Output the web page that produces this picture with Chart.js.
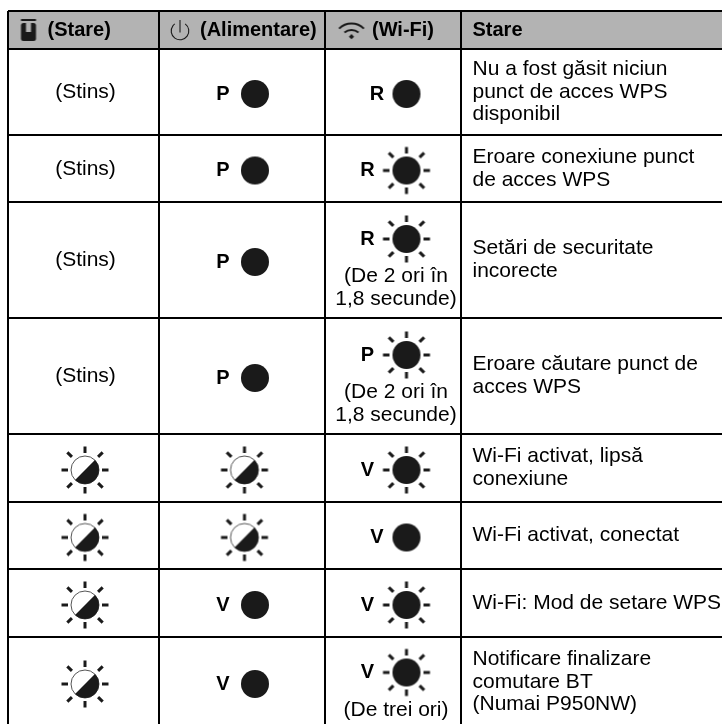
<!DOCTYPE html>
<html>
<head>
<meta charset="utf-8">
<style>
  html, body { margin: 0; padding: 0; background: #fff; }
  #wrap { width: 722px; height: 724px; }
</style>
<script src="https://cdn.jsdelivr.net/npm/chart.js@4"></script>
</head>
<body>
<div id="wrap"><canvas id="table-chart" width="722" height="724"></canvas></div>
<script>
// table content
const headers = ['(Stare)', '(Alimentare)', '(Wi-Fi)', 'Stare'];
const statusModes = ['off', 'off', 'off', 'off', 'half', 'half', 'half', 'half'];
const statusOffLabel = '(Stins)';
const powerLetters = ['P', 'P', 'P', 'P', '', '', 'V', 'V'];
const powerModes = ['on', 'on', 'on', 'on', 'half', 'half', 'on', 'on'];
const wifiLetters = ['R', 'R', 'R', 'P', 'V', 'V', 'V', 'V'];
const wifiModes = ['on', 'blink', 'blink', 'blink', 'blink', 'on', 'blink', 'blink'];
const wifiNotes = [
    [], [],
    ['(De 2 ori în', '1,8 secunde)'],
    ['(De 2 ori în', '1,8 secunde)'],
    [], [], [],
    ['(De trei ori)']
];
const descriptions = [
    ['Nu a fost găsit niciun', 'punct de acces WPS', 'disponibil'],
    ['Eroare conexiune punct', 'de acces WPS'],
    ['Setări de securitate', 'incorecte'],
    ['Eroare căutare punct de', 'acces WPS'],
    ['Wi-Fi activat, lipsă', 'conexiune'],
    ['Wi-Fi activat, conectat'],
    ['Wi-Fi: Mod de setare WPS'],
    ['Notificare finalizare', 'comutare BT', '(Numai P950NW)']
];

// layout of the grid, in canvas units
const colEdges = [8, 159, 325, 461];
const rowEdges = [11, 49, 135, 202, 318, 434, 502, 569, 637, 727];
const FONT = '"Liberation Sans", Arial, sans-serif';
const INK = '#1a1a1a';

function sprite(w, h, draw) {
    const c = document.createElement('canvas');
    c.width = w; c.height = h;
    const g = c.getContext('2d');
    g.translate(w / 2, h / 2);
    g.fillStyle = g.strokeStyle = INK;
    draw(g);
    return c;
}

function rays(g) {
    g.lineWidth = 3;
    for (let a = 0; a < 8; a++) {
        const t = a * Math.PI / 4;
        const inner = a % 2 ? 18.5 : 17;
        g.beginPath();
        g.moveTo(Math.cos(t) * inner, Math.sin(t) * inner);
        g.lineTo(Math.cos(t) * (inner + 6.5), Math.sin(t) * (inner + 6.5));
        g.stroke();
    }
}

const disc = g => { g.beginPath(); g.arc(0, 0, 14, 0, Math.PI * 2); g.fill(); };

const icons = {
    on: sprite(32, 32, disc),
    blink: sprite(54, 54, g => { disc(g); rays(g); }),
    half: sprite(54, 54, g => {
        rays(g);
        g.lineWidth = 1;
        g.strokeStyle = '#555';
        g.beginPath(); g.arc(0, 0, 14, 0, Math.PI * 2); g.stroke();
        g.beginPath();
        g.arc(0, 0, 14, -Math.PI / 4, Math.PI * 3 / 4);
        g.closePath();
        g.fill();
    }),
    tape: sprite(18, 24, g => {
        g.beginPath();
        g.roundRect(-7.5, -7, 15, 18, 2.5);
        g.fill();
        g.fillRect(-7.5, -11, 15, 2);
        g.fillStyle = '#b3b3b3';
        g.fillRect(-2.5, -7, 5, 9);
    }),
    power: sprite(24, 26, g => {
        g.lineWidth = 1.1;
        g.beginPath(); g.arc(0, 0, 8.8, -Math.PI * 0.3, Math.PI * 1.3); g.stroke();
        g.beginPath(); g.moveTo(0, -11); g.lineTo(0, 1.5); g.stroke();
    }),
    wifi: sprite(30, 20, g => {
        g.lineWidth = 2;
        g.beginPath(); g.arc(0, 10, 17.5, -Math.PI * 0.75, -Math.PI * 0.25); g.stroke();
        g.beginPath(); g.arc(0, 10, 11, -Math.PI * 0.72, -Math.PI * 0.28); g.stroke();
        g.beginPath(); g.moveTo(-2.6, 5.7); g.lineTo(0, 8.3); g.lineTo(2.6, 5.7); g.lineTo(0, 3.1); g.closePath(); g.fill();
    })
};

const rowMid = i => (rowEdges[i + 1] + rowEdges[i + 2]) / 2;
const markY = i => rowMid(i) + 2;
const wifiY = i => markY(i) - 11.5 * wifiNotes[i].length;
const ledX = (mode, col) => mode === 'half' ? (col === 0 ? 85 : 244.5) : (col === 1 ? 255 : 406.5);

const points = (modes, col, yOf) => modes.map((m, i) => ({ x: ledX(m, col), y: yOf(i), mode: m })).filter(p => p.mode !== 'off');

function ledSet(modes, col, yOf) {
    return {
        data: points(modes, col, yOf),
        pointRadius: 14,
        pointStyle: ctx => icons[ctx.raw.mode],
        showLine: false
    };
}

// header band and all labels, placed through the chart scales
const tableText = {
    id: 'tableText',
    beforeDraw(chart) {
        const { ctx, scales: { x, y } } = chart;
        ctx.save();
        ctx.fillStyle = '#b3b3b3';
        const top = y.getPixelForValue(rowEdges[0]), bottom = y.getPixelForValue(rowEdges[1]);
        const left = x.getPixelForValue(colEdges[0]);
        ctx.fillRect(left, top, x.right - left, bottom - top);
        ctx.restore();
    },
    afterDatasetsDraw(chart) {
        const { ctx, scales: { x, y } } = chart;
        const put = (text, px, py, align, bold) => {
            ctx.font = bold ? 'bold 20px ' + FONT : '21px ' + FONT;
            ctx.textAlign = align;
            ctx.fillText(text, x.getPixelForValue(px), y.getPixelForValue(py));
        };
        ctx.save();
        ctx.fillStyle = '#000';
        ctx.textBaseline = 'middle';

        const headY = (rowEdges[0] + rowEdges[1]) / 2 + 0.5;
        [47.5, 200, 372, 472.5].forEach((hx, i) => put(headers[i], hx, headY, 'left', true));

        statusModes.forEach((m, i) => {
            if (m === 'off') put(statusOffLabel, 85.5, rowMid(i) + 0.5, 'center');
        });
        powerLetters.forEach((l, i) => {
            if (l) put(l, 223, markY(i), 'center', true);
        });
        wifiLetters.forEach((l, i) => {
            put(l, wifiModes[i] === 'blink' ? 367.5 : 377, wifiY(i), 'center', true);
            wifiNotes[i].forEach((n, k) => put(n, 396, wifiY(i) + 37.5 + 23 * k, 'center'));
        });
        descriptions.forEach((lines, i) => {
            lines.forEach((l, k) => put(l, 472.5, rowMid(i) + (k - (lines.length - 1) / 2) * 22.7, 'left'));
        });
        ctx.restore();
    }
};

const gridOpts = { color: '#000', lineWidth: 2, drawTicks: false };

new Chart(document.getElementById('table-chart'), {
    type: 'scatter',
    data: {
        datasets: [
            ledSet(statusModes, 0, markY),
            ledSet(powerModes, 1, markY),
            ledSet(wifiModes, 2, wifiY),
            {
                data: [
                    { x: 28.5, y: 30, mode: 'tape' },
                    { x: 180, y: 31, mode: 'power' },
                    { x: 351.5, y: 31, mode: 'wifi' }
                ],
                pointRadius: 10,
                pointStyle: ctx => icons[ctx.raw.mode],
                showLine: false
            }
        ]
    },
    options: {
        responsive: false,
        animation: false,
        events: [],
        // chart area starts at the table's top left corner, cut off at right and bottom
        layout: { autoPadding: false, padding: { left: 8, top: 11, right: 0, bottom: 0 } },
        plugins: { legend: { display: false }, tooltip: { enabled: false } },
        scales: {
            x: {
                type: 'linear', min: 8, max: 722,
                border: { display: false },
                grid: gridOpts,
                ticks: { display: false },
                afterBuildTicks: s => { s.ticks = colEdges.map(value => ({ value })); }
            },
            y: {
                type: 'linear', min: 11, max: 724, reverse: true,
                border: { display: false },
                grid: gridOpts,
                ticks: { display: false },
                afterBuildTicks: s => { s.ticks = rowEdges.filter(v => v <= 724).map(value => ({ value })); }
            }
        }
    },
    plugins: [tableText]
});
</script>
</body>
</html>
